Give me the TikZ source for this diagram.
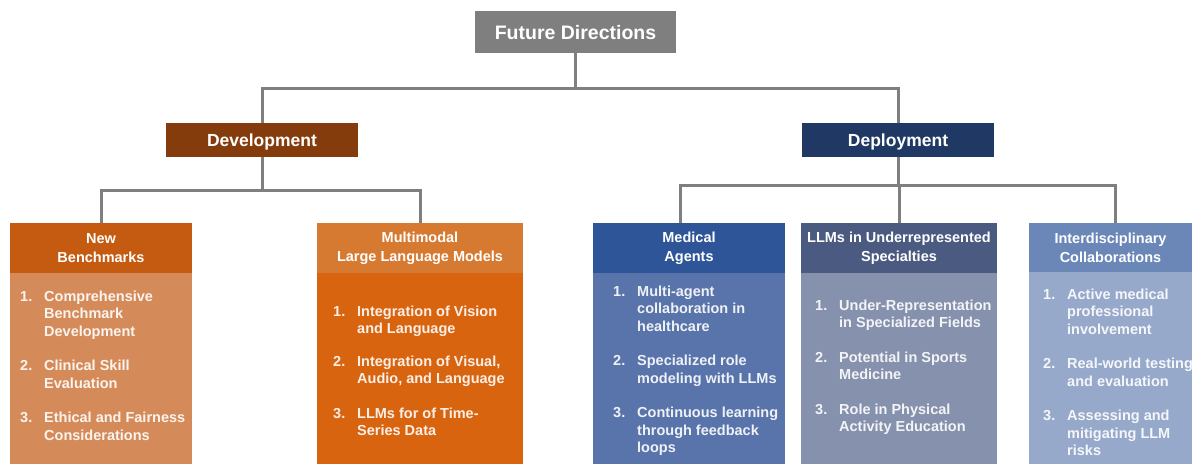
\documentclass[tikz,border=0pt]{standalone}
\usepackage{fontspec}
\setmainfont{Liberation Sans}
\usepackage{array}
\definecolor{conn}{HTML}{7F7F7F}
\definecolor{rootc}{HTML}{7F7F7F}
\definecolor{devc}{HTML}{843C0C}
\definecolor{depc}{HTML}{1F3864}
\definecolor{nbH}{HTML}{C55A11}
\definecolor{nbB}{HTML}{D58B59}
\definecolor{mmH}{HTML}{D67A32}
\definecolor{mmB}{HTML}{D8640F}
\definecolor{maH}{HTML}{2E5597}
\definecolor{maB}{HTML}{5874AA}
\definecolor{llH}{HTML}{4A5A80}
\definecolor{llB}{HTML}{8591AD}
\definecolor{idH}{HTML}{6A87B8}
\definecolor{idB}{HTML}{97A9CA}
\newcommand{\itemlist}[1]{\begin{tabular}[t]{@{}p{24pt}@{}l@{}}#1\end{tabular}}
\begin{document}
\begin{tikzpicture}[x=1pt,y=-1pt,
  box/.style={rectangle, inner sep=0pt, draw=none},
  topbox/.style={box, text=white, font=\bfseries\fontsize{19.5}{22}\selectfont, text height=14pt, text depth=0pt},
  midbox/.style={box, text=white, font=\bfseries\fontsize{17.5}{20}\selectfont, minimum width=192pt, minimum height=34pt, text height=12.6pt, text depth=0pt},
  headbox/.style={box, text=white, align=center, font=\bfseries\fontsize{14.5}{19}\selectfont, minimum height=50pt},
  bodybox/.style={box, minimum height=191pt},
  bodytext/.style={anchor=base west, inner sep=0pt, text=white, text opacity=0.9, font=\bfseries\fontsize{14.5}{17.5}\selectfont},
  conline/.style={draw=conn, line width=3pt}]
\useasboundingbox (0,0) rectangle (1192,464);

% top levels
\node[topbox, fill=rootc, minimum width=201pt, minimum height=42pt] (root) at (575.5,32) {Future Directions};
\node[midbox, fill=devc] (dev) at (262,140) {Development};
\node[midbox, fill=depc] (dep) at (898,140) {Deployment};

% bottom headers
\node[headbox, fill=nbH, minimum width=182pt] (nbh) at (101,248) {New\\Benchmarks};
\node[headbox, fill=mmH, minimum width=206pt] (mmh) at (420,248) {Multimodal\\Large Language Models};
\node[headbox, fill=maH, minimum width=192pt] (mah) at (689,248) {Medical\\Agents};
\node[headbox, fill=llH, minimum width=196pt] (llh) at (899,248) {LLMs in Underrepresented\\Specialties};
\node[headbox, fill=idH, minimum width=163pt, minimum height=49pt] (idh) at (1110.5,247.5) {Interdisciplinary\\Collaborations};

% bodies
\node[bodybox, fill=nbB, minimum width=182pt, anchor=north] (nbb) at (nbh.south) {};
\node[bodybox, fill=mmB, minimum width=206pt, anchor=north] (mmb) at (mmh.south) {};
\node[bodybox, fill=maB, minimum width=192pt, anchor=north] (mab) at (mah.south) {};
\node[bodybox, fill=llB, minimum width=196pt, anchor=north] (llb) at (llh.south) {};
\node[bodybox, fill=idB, minimum width=163pt, minimum height=192pt, anchor=north] (idb) at (idh.south) {};

% body texts
\node[bodytext] (nbt) at (20,301) {\itemlist{1. & Comprehensive\\ & Benchmark\\ & Development\\[17pt]
 2. & Clinical Skill\\ & Evaluation\\[17pt]
 3. & Ethical and Fairness\\ & Considerations}};
\node[bodytext] (mmt) at (333,316) {\itemlist{1. & Integration of Vision\\ & and Language\\[15pt]
 2. & Integration of Visual,\\ & Audio, and Language\\[17pt]
 3. & LLMs for of Time-\\ & Series Data}};
\node[bodytext] (mat) at (613,296) {\itemlist{1. & Multi-agent\\ & collaboration in\\ & healthcare\\[17pt]
 2. & Specialized role\\ & modeling with LLMs\\[17pt]
 3. & Continuous learning\\ & through feedback\\ & loops}};
\node[bodytext] (llt) at (815,310) {\itemlist{1. & Under-Representation\\ & in Specialized Fields\\[17pt]
 2. & Potential in Sports\\ & Medicine\\[17pt]
 3. & Role in Physical\\ & Activity Education}};
\node[bodytext] (idt) at (1043,299) {\itemlist{1. & Active medical\\ & professional\\ & involvement\\[17pt]
 2. & Real-world testing\\ & and evaluation\\[17pt]
 3. & Assessing and\\ & mitigating LLM\\ & risks}};

% connectors
\draw[conline] (root.south) -- ++(0,35) -| (dev.north);
\draw[conline] (root.south) -- ++(0,35) -| (dep.north);
\draw[conline] (dev.south) -- ++(0,33) -| (nbh.north);
\draw[conline] (dev.south) -- ++(0,33) -| (mmh.north);
\draw[conline] (dep.south) -- ++(0,28) -| ([xshift=-9pt]mah.north);
\draw[conline] (dep.south) -- ++(0,28) -| (llh.north);
\draw[conline] (dep.south) -- ++(0,28) -| ([xshift=5pt]idh.north);
\end{tikzpicture}
\end{document}
